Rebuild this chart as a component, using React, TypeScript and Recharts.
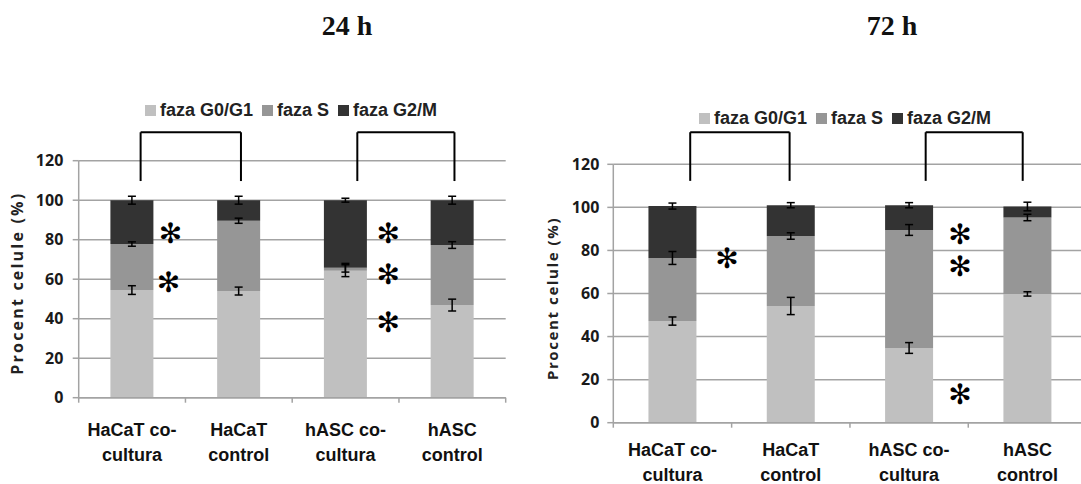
import React from 'react';
import {
  BarChart,
  Bar,
  XAxis,
  YAxis,
  CartesianGrid,
  ErrorBar,
  ReferenceLine,
  ReferenceDot,
} from 'recharts';

const categories = ['HaCaT co-\ncultura', 'HaCaT\ncontrol', 'hASC co-\ncultura', 'hASC\ncontrol'];
const seriesNames = ['faza G0/G1', 'faza S', 'faza G2/M'];
const seriesColors = ['#c0c0c0', '#969696', '#333333'];
const yTicks = [0, 20, 40, 60, 80, 100, 120];
const posTicks = [0, 0.5, 1, 1.5, 2, 2.5, 3, 3.5, 4];

// 24 h
const g1_24 = [54.5, 54, 64.3, 46.9];
const s_24 = [23.3, 35.6, 1.5, 30.4];
const g2m_24 = [22.2, 10.4, 34.2, 22.7];
const g1Err_24 = [2.2, 2, 3, 3];
const sErr_24 = [1.1, 1.3, 2.2, 1.7];
const g2mErr_24 = [2, 2, 1, 2];

// 72 h
const g1_72 = [47.2, 54.2, 34.7, 59.8];
const s_72 = [29.3, 32.5, 54.8, 35.5];
const g2m_72 = [24.1, 14.3, 11.5, 5.1];
const g1Err_72 = [1.9, 4, 2.5, 1];
const sErr_72 = [3, 1.5, 2.5, 1.5];
const g2mErr_72 = [1.4, 1.2, 1.2, 2];

// significance marks (x on the 0..4 category position scale, y in %)
const brackets24 = [[0.58, 1.52], [2.61, 3.52]];
const bracketY24 = [109.7, 134.4];
const stars24 = [[0.86, 82.9], [0.84, 58.4], [2.9, 82.9], [2.9, 62.6], [2.9, 38.2]];
const brackets72 = [[0.65, 1.49], [2.64, 3.46]];
const bracketY72 = [112.3, 134.9];
const stars72 = [[0.96, 76.4], [2.93, 87.5], [2.93, 72.5], [2.93, 12.9]];

const GRID = '#a3a3a3';

function makeRows(g1, s, g2m, e1, e2, e3) {
  return categories.map((name, i) => ({
    name,
    pos: i + 0.5,
    g1: g1[i],
    s: s[i],
    g2m: g2m[i],
    g1Err: e1[i],
    sErr: e2[i],
    g2mErr: e3[i],
  }));
}

const rows24 = makeRows(g1_24, s_24, g2m_24, g1Err_24, sErr_24, g2mErr_24);
const rows72 = makeRows(g1_72, s_72, g2m_72, g1Err_72, sErr_72, g2mErr_72);

function CatTick(props) {
  const { x, y, payload, l1, l2 } = props;
  const v = payload.value;
  if (Number.isInteger(v)) {
    return <line x1={x} x2={x} y1={y} y2={y + 5} stroke={GRID} strokeWidth={1.5} />;
  }
  const lines = categories[Math.floor(v)].split('\n');
  return (
    <text
      textAnchor="middle"
      fontFamily="'Liberation Sans', Arial, sans-serif"
      fontWeight="bold"
      fontSize={18}
      fill="#111"
    >
      <tspan x={x} y={y + l1}>{lines[0]}</tspan>
      <tspan x={x} y={y + l2}>{lines[1]}</tspan>
    </text>
  );
}

function Panel({ rows, brackets, bracketY, stars, cfg }) {
  const yLabel = (p) => {
    const vb = p.viewBox;
    const cx = vb.x + cfg.labX;
    const cy = vb.y + vb.height / 2 + cfg.labDy;
    return (
      <text
        x={cx}
        y={cy}
        transform={`rotate(-90 ${cx} ${cy})`}
        textAnchor="middle"
        dominantBaseline="central"
        fontFamily="'Open Sans', sans-serif"
        fontWeight="bold"
        fontSize={cfg.labSize}
        letterSpacing={cfg.labSpacing}
        fill="#222"
      >
        Procent celule (%)
      </text>
    );
  };

  return (
    <BarChart
      width={cfg.width}
      height={484}
      data={rows}
      margin={{ top: cfg.top, right: cfg.right, bottom: cfg.bottom, left: 0 }}
      barCategoryGap="29.7%"
    >
      <CartesianGrid vertical={false} xAxisId="pos" stroke={GRID} strokeWidth={1.5} />
      <XAxis
        xAxisId="pos"
        dataKey="pos"
        type="number"
        domain={[0, 4]}
        ticks={posTicks}
        interval={0}
        allowDataOverflow
        tickLine={false}
        tickSize={0}
        tickMargin={0}
        height={cfg.xh}
        axisLine={{ stroke: GRID, strokeWidth: 1.5 }}
        tick={(p) => <CatTick {...p} l1={cfg.l1} l2={cfg.l2} />}
      />
      <XAxis xAxisId="cat" dataKey="name" hide height={0} />
      <YAxis
        domain={[0, 120]}
        ticks={yTicks}
        interval={0}
        width={cfg.yw}
        tickSize={6}
        tickMargin={cfg.tm}
        axisLine={{ stroke: GRID, strokeWidth: 1.5 }}
        tickLine={{ stroke: GRID, strokeWidth: 1.5 }}
        tick={{ fill: '#1a1a1a', fontSize: 16, fontWeight: 'bold', fontFamily: "'Open Sans', sans-serif" }}
        label={yLabel}
      />
      <Bar xAxisId="cat" dataKey="g1" stackId="a" fill={seriesColors[0]} isAnimationActive={false}>
        <ErrorBar dataKey="g1Err" width={4} stroke="#000" strokeWidth={1.5} />
      </Bar>
      <Bar xAxisId="cat" dataKey="s" stackId="a" fill={seriesColors[1]} isAnimationActive={false}>
        <ErrorBar dataKey="sErr" width={4} stroke="#000" strokeWidth={1.5} />
      </Bar>
      <Bar xAxisId="cat" dataKey="g2m" stackId="a" fill={seriesColors[2]} isAnimationActive={false}>
        <ErrorBar dataKey="g2mErr" width={4} stroke="#000" strokeWidth={1.5} />
      </Bar>
      {brackets.map(([a, b], i) => [
        <ReferenceLine
          key={`l${i}`}
          xAxisId="pos"
          ifOverflow="visible"
          segment={[{ x: a, y: bracketY[0] }, { x: a, y: bracketY[1] }]}
          stroke="#000"
          strokeWidth={2}
        />,
        <ReferenceLine
          key={`t${i}`}
          xAxisId="pos"
          ifOverflow="visible"
          segment={[{ x: a, y: bracketY[1] }, { x: b, y: bracketY[1] }]}
          stroke="#000"
          strokeWidth={2}
        />,
        <ReferenceLine
          key={`r${i}`}
          xAxisId="pos"
          ifOverflow="visible"
          segment={[{ x: b, y: bracketY[0] }, { x: b, y: bracketY[1] }]}
          stroke="#000"
          strokeWidth={2}
        />,
      ])}
      {stars.map(([sx, sy], i) => (
        <ReferenceDot
          key={`s${i}`}
          xAxisId="pos"
          x={sx}
          y={sy}
          r={0}
          ifOverflow="visible"
          shape={(p) => (
            <text
              x={p.cx}
              y={p.cy}
              textAnchor="middle"
              dominantBaseline="central"
              fontSize={28}
              fontFamily="'DejaVu Sans', sans-serif"
              fill="#000"
            >
              ✻
            </text>
          )}
        />
      ))}
    </BarChart>
  );
}

function LegendRow({ left, top }) {
  return (
    <div
      style={{
        position: 'absolute',
        left,
        top,
        display: 'flex',
        alignItems: 'center',
        fontFamily: "'Liberation Sans', Arial, sans-serif",
        fontWeight: 'bold',
        fontSize: 18,
        lineHeight: '20px',
        color: '#222',
        whiteSpace: 'nowrap',
      }}
    >
      {seriesNames.map((n, i) => (
        <span key={n} style={{ display: 'flex', alignItems: 'center', marginRight: 9 }}>
          <span style={{ width: 11, height: 11, background: seriesColors[i], marginRight: 4 }} />
          {n}
        </span>
      ))}
    </div>
  );
}

function Title({ text, cx }) {
  return (
    <div
      style={{
        position: 'absolute',
        left: cx - 60,
        width: 120,
        top: 12,
        textAlign: 'center',
        fontFamily: "'Liberation Serif', 'Times New Roman', serif",
        fontWeight: 'bold',
        fontSize: 28,
        lineHeight: '28px',
        color: '#111',
      }}
    >
      {text}
    </div>
  );
}

const cfg24 = { width: 540, top: 160.7, right: 34.3, bottom: 26.3, xh: 60, yw: 78.7, tm: 9.4, l1: 38.5, l2: 63.5, labX: 17.3, labDy: 4, labSize: 16, labSpacing: 2.2 };
const cfg72 = { width: 580, top: 164.3, right: 23.4, bottom: 21.3, xh: 40, yw: 83.3, tm: 8, l1: 33.5, l2: 58, labX: 21.5, labDy: 5, labSize: 15, labSpacing: 1.6 };

export default function App() {
  return (
    <div style={{ position: 'absolute', left: 0, top: 0, width: 1081, height: 484, overflow: 'hidden', background: '#fff' }}>
      <Title text="24 h" cx={347} />
      <Title text="72 h" cx={892} />
      <LegendRow left={145} top={100} />
      <LegendRow left={699} top={108} />
      <div style={{ position: 'absolute', left: 0, top: 0 }}>
        <Panel rows={rows24} brackets={brackets24} bracketY={bracketY24} stars={stars24} cfg={cfg24} />
      </div>
      <div style={{ position: 'absolute', left: 530, top: 0 }}>
        <Panel rows={rows72} brackets={brackets72} bracketY={bracketY72} stars={stars72} cfg={cfg72} />
      </div>
    </div>
  );
}
